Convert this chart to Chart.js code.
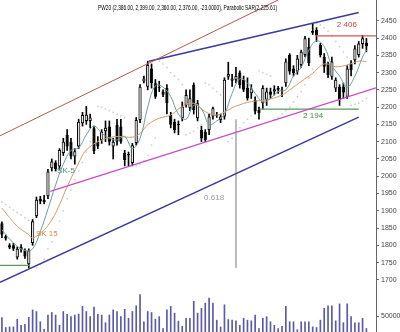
<!DOCTYPE html>
<html>
<head>
<meta charset="utf-8">
<script src="https://cdn.jsdelivr.net/npm/chart.js@4.4.1/dist/chart.umd.min.js"></script>
<style>
html, body { margin: 0; padding: 0; background: #fff; }
canvas { display: block; }
</style>
</head>
<body>
<canvas id="myChart" width="400" height="332"></canvas>
<script>
// daily candles (oldest first)
var opens = [1864, 1826, 1800, 1800, 1765, 1796, 1786, 1745, 1807, 1884, 1935, 1932, 1942, 2023, 2040, 2028,
	2067, 2120, 2100, 2057, 2086, 2153, 2160, 2160, 2139, 2100, 2105, 2130, 2144, 2086, 2148, 2144,
	2067, 2060, 2038, 2096, 2163, 2274, 2259, 2312, 2269, 2258, 2245, 2255, 2177, 2158, 2150, 2168,
	2206, 2197, 2264, 2168, 2134, 2129, 2134, 2173, 2178, 2163, 2173, 2288, 2276, 2279, 2300, 2279,
	2255, 2240, 2221, 2192, 2211, 2221, 2245, 2245, 2255, 2250, 2269, 2351, 2312, 2303, 2322, 2351,
	2375, 2415, 2423, 2380, 2346, 2327, 2288, 2254, 2259, 2260, 2230, 2327, 2336, 2351, 2383, 2386];
var highs = [1868, 1830, 1805, 1806, 1795, 1802, 1790, 1790, 1875, 1940, 1942, 1945, 2020, 2050, 2045, 2080,
	2110, 2135, 2110, 2080, 2165, 2185, 2202, 2180, 2145, 2115, 2135, 2160, 2160, 2110, 2165, 2165,
	2075, 2070, 2095, 2170, 2265, 2290, 2333, 2325, 2280, 2275, 2250, 2265, 2185, 2165, 2160, 2215,
	2250, 2250, 2270, 2220, 2145, 2135, 2180, 2200, 2185, 2180, 2285, 2330, 2295, 2315, 2305, 2290,
	2285, 2265, 2230, 2200, 2262, 2255, 2255, 2262, 2260, 2258, 2340, 2355, 2320, 2350, 2365, 2405,
	2400, 2442, 2430, 2385, 2355, 2330, 2345, 2285, 2265, 2270, 2320, 2335, 2378, 2390, 2408, 2399];
var lows = [1822, 1815, 1790, 1785, 1760, 1780, 1762, 1735, 1800, 1880, 1920, 1920, 1935, 2015, 2015, 2020,
	2060, 2075, 2050, 2035, 2080, 2145, 2150, 2140, 2065, 2080, 2095, 2100, 2090, 2050, 2090, 2095,
	2030, 2030, 2030, 2090, 2155, 2270, 2250, 2255, 2225, 2245, 2230, 2180, 2140, 2125, 2120, 2160,
	2200, 2190, 2180, 2160, 2100, 2100, 2120, 2165, 2170, 2155, 2165, 2280, 2260, 2270, 2255, 2245,
	2220, 2225, 2180, 2165, 2195, 2205, 2225, 2235, 2240, 2230, 2260, 2295, 2290, 2295, 2315, 2345,
	2320, 2410, 2390, 2345, 2300, 2285, 2280, 2245, 2205, 2225, 2225, 2290, 2325, 2345, 2370, 2360];
var closes = [1831, 1820, 1794, 1790, 1790, 1788, 1768, 1785, 1870, 1932, 1927, 1925, 2014, 2043, 2020, 2076,
	2100, 2086, 2057, 2072, 2158, 2177, 2178, 2170, 2072, 2086, 2129, 2140, 2100, 2100, 2100, 2100,
	2047, 2064, 2090, 2163, 2259, 2283, 2322, 2269, 2230, 2256, 2236, 2211, 2149, 2134, 2148, 2202,
	2235, 2226, 2192, 2211, 2110, 2105, 2173, 2197, 2175, 2173, 2279, 2296, 2283, 2290, 2264, 2250,
	2226, 2254, 2187, 2182, 2255, 2245, 2236, 2252, 2250, 2248, 2332, 2303, 2298, 2341, 2360, 2399,
	2327, 2420, 2409, 2351, 2317, 2293, 2332, 2279, 2221, 2242, 2312, 2307, 2370, 2384, 2399, 2376];
// volume, in thousands
var volumes = [45, 14, 16, 16, 40, 21, 24, 46, 69, 64, 32, 8, 53, 61, 53, 21,
	64, 55, 48, 53, 56, 80, 64, 48, 78, 55, 53, 29, 53, 69, 64, 48,
	71, 43, 64, 82, 117, 32, 64, 61, 40, 48, 11, 69, 80, 59, 34, 18,
	43, 43, 96, 59, 74, 90, 106, 90, 37, 16, 85, 39, 37, 35, 21, 43,
	37, 35, 53, 11, 43, 48, 32, 21, 11, 18, 80, 32, 32, 7, 32, 32,
	32, 16, 14, 37, 74, 82, 82, 35, 88, 29, 88, 48, 29, 29, 43, 11];

// moving averages (session index, value), read at every other session
var sk5 = [[0, 1845], [3, 1807], [6, 1785], [8, 1790], [10, 1840], [12, 1905], [14, 1975], [16, 2035],
	[18, 2075], [20, 2082], [22, 2120], [24, 2145], [26, 2125], [28, 2110], [30, 2105], [32, 2115],
	[34, 2080], [36, 2110], [38, 2200], [40, 2262], [42, 2258], [44, 2230], [46, 2180], [48, 2165],
	[50, 2205], [52, 2195], [54, 2150], [56, 2160], [58, 2180], [60, 2240], [62, 2282], [64, 2270],
	[66, 2240], [68, 2215], [70, 2225], [72, 2245], [74, 2250], [76, 2290], [78, 2315], [80, 2365],
	[82, 2392], [84, 2375], [86, 2320], [88, 2290], [90, 2258], [92, 2290], [94, 2345], [95, 2365]];
var sk15 = [[0, 1908], [4, 1855], [7, 1831], [8, 1821], [11, 1845], [13, 1874], [15, 1917], [17, 1970],
	[20, 2038], [22, 2076], [26, 2105], [30, 2115], [34, 2113], [36, 2124], [38, 2149], [41, 2168],
	[44, 2177], [47, 2202], [50, 2211], [53, 2187], [56, 2177], [59, 2192], [61, 2203], [65, 2216],
	[69, 2221], [73, 2235], [75, 2250], [78, 2274], [81, 2298], [84, 2325], [87, 2317], [90, 2322],
	[93, 2333], [95, 2332]];
// parabolic SAR dots
var sar = [[0, 1925], [1, 1918], [2, 1910], [3, 1902], [4, 1895], [5, 1888], [6, 1880], [7, 1872],
	[9, 1735], [10, 1745], [11, 1760], [12, 1790], [13, 1810], [14, 1840], [15, 1870], [16, 1900],
	[17, 1935], [18, 1960], [19, 1990], [20, 2015], [21, 2040], [22, 2070], [23, 2100],
	[25, 2202], [26, 2200], [27, 2195], [28, 2190], [29, 2185], [30, 2180], [31, 2175], [32, 2170],
	[35, 2030], [36, 2035], [37, 2045], [38, 2060], [39, 2090], [40, 2110],
	[41, 2333], [42, 2325], [43, 2315], [44, 2300], [45, 2290], [46, 2280], [47, 2265],
	[48, 2120], [49, 2125], [50, 2130], [51, 2140], [52, 2150],
	[53, 2270], [54, 2265], [55, 2255], [56, 2245], [57, 2235], [58, 2225],
	[59, 2100], [60, 2110], [61, 2125], [62, 2140], [63, 2155], [64, 2165], [65, 2175], [66, 2180],
	[67, 2305], [68, 2300], [69, 2295], [70, 2290],
	[71, 2165], [72, 2170], [73, 2180], [74, 2190], [75, 2200], [76, 2215], [77, 2230], [78, 2245],
	[79, 2265], [80, 2285], [81, 2310],
	[82, 2442], [83, 2438], [84, 2430], [85, 2420], [86, 2405], [87, 2390], [88, 2375], [89, 2360], [90, 2345],
	[91, 2205], [92, 2208], [93, 2212], [94, 2218], [95, 2225.61]];

// drawn trend lines and levels (session index, value)
var resistFan = [[-0.5, 2117], [72, 2510]];
var upperChannel = [[38.3, 2333], [93, 2474]];
var supportLine = [[12.6, 1956], [97.5, 2256]];
var lowerChannel = [[-0.5, 1693], [93, 2171]];
var level2406 = [[81.7, 2406], [97.5, 2406]];
var level2194 = [[67.2, 2194], [93, 2194]];
var levelLow = [[-0.5, 1742], [7.3, 1742]];
var fibLine = [[61, 2165], [61, 1735]];

var priceTicks = [1700, 1750, 1800, 1850, 1900, 1950, 2000, 2050, 2100, 2150, 2200, 2250, 2300, 2350, 2400, 2450];
var volumeTicks = [50000];

var headerText = 'PW20 (2,386.00, 2,399.00, 2,360.00, 2,376.00, -23.0000), Parabolic SAR(2,225.61)';

var sessions = opens.map(function(v, i) { return String(i + 1); });
var axisLabels = sessions.concat(['', '']);

function toPoints(list) {
	return list.map(function(p) { return {x: p[0], y: p[1]}; });
}

function lineSet(list, color, width) {
	return {
		type: 'line',
		data: toPoints(list),
		xAxisID: 'xl',
		yAxisID: 'y',
		borderColor: color,
		borderWidth: width,
		pointRadius: 0,
		order: 0
	};
}

// right-hand axis: fixed width, no extra padding from the labels
function fitAxis(scale) {
	scale.width = 24;
	scale.paddingTop = 0;
	scale.paddingBottom = 0;
}

var bodies = opens.map(function(o, i) {
	return [Math.min(o, closes[i]), Math.max(o, closes[i])];
});
var wicks = lows.map(function(l, i) { return [l, highs[i]]; });
var bodyColors = opens.map(function(o, i) { return closes[i] >= o ? '#e6e6e6' : '#000000'; });

var labelFont = '"Liberation Sans Narrow", "Liberation Sans", Arial, sans-serif';

var notesPlugin = {
	id: 'notes',
	afterDatasetsDraw: function(chart) {
		var ctx = chart.ctx;
		var xs = chart.scales.xl;
		var ys = chart.scales.y;
		var notes = [
			{text: '2 406', x: 89.9, y: 2437, color: '#d0403c'},
			{text: '2 194', x: 81.1, y: 2175, color: '#3f8f3f'},
			{text: '0.618', x: 55.3, y: 1937, color: '#999999'},
			{text: 'SK-5', x: 16.7, y: 2015, color: '#4f8f95'},
			{text: 'SK 15', x: 11.7, y: 1833, color: '#d0884a'}
		];

		ctx.save();
		ctx.textAlign = 'center';
		ctx.textBaseline = 'middle';
		ctx.font = '8px ' + labelFont;
		notes.forEach(function(n) {
			ctx.fillStyle = n.color;
			ctx.fillText(n.text, xs.getPixelForValue(n.x), ys.getPixelForValue(n.y));
		});

		// header squeezed to its width in the picture
		ctx.font = '7.5px ' + labelFont;
		ctx.fillStyle = '#000000';
		ctx.textAlign = 'left';
		var w = ctx.measureText(headerText).width;
		ctx.translate(98, 7.5);
		ctx.scale(179 / w, 1);
		ctx.fillText(headerText, 0, 0);
		ctx.restore();
	}
};

var ctx = document.getElementById('myChart').getContext('2d');
var myChart = new Chart(ctx, {
	data: {
		labels: axisLabels,
		datasets: [
			lineSet(resistFan, '#b25a4a', 1),
			lineSet(upperChannel, '#3a3a9c', 1.5),
			lineSet(supportLine, '#c84ac8', 1.3),
			lineSet(lowerChannel, '#3a3a9c', 1.5),
			lineSet(level2406, '#d9534f', 1.3),
			lineSet(level2194, '#5a9a5a', 1.3),
			lineSet(levelLow, '#5a9a5a', 1.3),
			lineSet(fibLine, '#bbbbbb', 2),
			{
				type: 'line',
				data: toPoints(sk5),
				xAxisID: 'xl',
				borderColor: '#6a9ea0',
				borderWidth: 1,
				pointRadius: 0,
				tension: 0.4,
				order: 1
			},
			{
				type: 'line',
				data: toPoints(sk15),
				xAxisID: 'xl',
				borderColor: '#d89a66',
				borderWidth: 1,
				pointRadius: 0,
				tension: 0.4,
				order: 1
			},
			{
				type: 'bar',
				data: bodies,
				backgroundColor: bodyColors,
				borderColor: '#000000',
				borderWidth: 1,
				borderSkipped: false,
				minBarLength: 1,
				grouped: false,
				barPercentage: 0.85,
				categoryPercentage: 1,
				order: 2
			},
			{
				type: 'bar',
				data: wicks,
				backgroundColor: '#000000',
				barThickness: 1,
				grouped: false,
				order: 3
			},
			{
				type: 'line',
				data: toPoints(sar),
				xAxisID: 'xl',
				showLine: false,
				pointRadius: 0.9,
				pointBorderWidth: 0,
				pointBackgroundColor: '#cfcfcf',
				order: 4
			},
			{
				type: 'bar',
				data: volumes.map(function(v) { return v * 1000; }),
				yAxisID: 'yv',
				backgroundColor: '#5a5aa6',
				barThickness: 1,
				grouped: false,
				order: 5
			}
		]
	},
	options: {
		responsive: false,
		animation: false,
		devicePixelRatio: 1,
		layout: {padding: 0, autoPadding: false},
		plugins: {
			legend: {display: false},
			tooltip: {enabled: false}
		},
		scales: {
			x: {
				type: 'category',
				offset: true,
				display: false
			},
			xl: {
				type: 'linear',
				min: -0.5,
				max: 97.5,
				display: false
			},
			y: {
				position: 'right',
				stack: 'panes',
				stackWeight: 292,
				min: 1665,
				max: 2510,
				afterBuildTicks: function(scale) {
					scale.ticks = priceTicks.map(function(v) { return {value: v}; });
				},
				afterFit: fitAxis,
				grid: {drawOnChartArea: false, tickLength: 3, color: '#666666'},
				border: {color: '#666666'},
				ticks: {
					autoSkip: false,
					padding: 2,
					color: '#444444',
					font: {family: labelFont, size: 7},
					callback: function(v) { return String(v); }
				}
			},
			yv: {
				position: 'right',
				stack: 'panes',
				stackWeight: 40,
				min: 0,
				max: 125000,
				afterBuildTicks: function(scale) {
					scale.ticks = volumeTicks.map(function(v) { return {value: v}; });
				},
				afterFit: fitAxis,
				grid: {drawOnChartArea: false, tickLength: 3, color: '#666666'},
				border: {color: '#666666'},
				ticks: {
					autoSkip: false,
					padding: 2,
					color: '#444444',
					font: {family: labelFont, size: 7},
					callback: function(v) { return String(v); }
				}
			}
		}
	},
	plugins: [notesPlugin]
});
</script>
</body>
</html>
